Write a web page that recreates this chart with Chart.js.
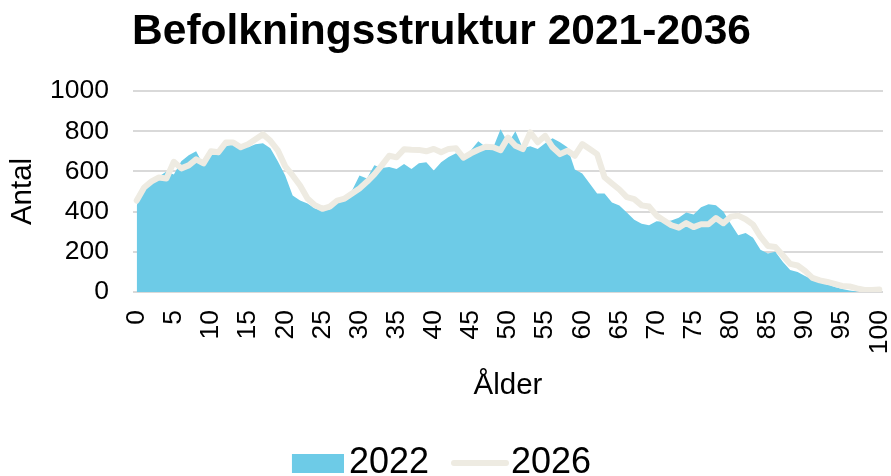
<!DOCTYPE html>
<html>
<head>
<meta charset="utf-8">
<script src="https://cdn.jsdelivr.net/npm/chart.js@4"></script>
<style>
html,body{margin:0;padding:0;overflow:hidden;background:#ffffff;}
#wrap{width:891px;height:491px;position:relative;}
</style>
</head>
<body>
<div id="wrap"><canvas id="c" width="891" height="491"></canvas></div>
<script>
// ---- data ----
const ages = [0,1,2,3,4,5,6,7,8,9,10,11,12,13,14,15,16,17,18,19,20,21,22,23,24,25,26,27,28,29,30,31,32,33,34,35,36,37,38,39,40,41,42,43,44,45,46,47,48,49,50,51,52,53,54,55,56,57,58,59,60,61,62,63,64,65,66,67,68,69,70,71,72,73,74,75,76,77,78,79,80,81,82,83,84,85,86,87,88,89,90,91,92,93,94,95,96,97,98,99,100];
const pop2022 = [430,525,555,575,600,585,650,680,700,630,
  705,680,725,735,730,720,735,740,715,650,
  580,480,455,440,415,405,410,465,475,505,
  580,565,630,617,622,612,637,612,640,645,
  605,645,672,690,672,705,750,722,718,810,
  740,800,715,725,712,740,765,745,720,610,
  590,540,490,490,445,430,395,360,340,332,
  352,350,356,370,395,385,422,437,432,400,
  340,282,294,270,210,192,200,150,110,100,
  80,62,50,38,25,15,7,3,2,1,1];
const pop2026 = [455,520,550,570,565,648,615,630,660,640,
  700,695,744,744,720,735,760,785,752,705,
  625,580,530,465,432,414,425,455,465,490,
  515,548,585,630,678,670,710,708,707,700,
  712,695,712,715,668,690,708,723,720,705,
  768,728,711,794,745,777,720,686,703,678,
  736,711,686,571,540,510,472,462,431,425,
  381,356,332,320,343,323,337,337,368,342,
  375,380,362,335,275,229,224,183,140,132,
  105,70,58,50,40,30,28,18,10,10,12];
const xTickLabels = ['0','5','10','15','20','25','30','35','40','45','50','55','60','65','70','75','80','85','90','95','100'];
const yTickValues = [0,200,400,600,800,1000];
const yTickLabels = ['0','200','400','600','800','1000'];
const seriesNames = ['2022','2026'];
const titleText = 'Befolkningsstruktur 2021-2036';
const xTitle = 'Ålder';
const yTitle = 'Antal';

// ---- styles ----
const AREA = '#6DCBE7';
const LINE = '#EEEBE2';
const GRID = '#D9D9D9';
const FONT = "'Liberation Sans', Arial, sans-serif";

function rectIcon(){
  const c = document.createElement('canvas');
  c.width = 65; c.height = 19;
  const g = c.getContext('2d');
  g.fillStyle = AREA;
  g.fillRect(13, 0, 52, 19);
  return c;
}
function lineIcon(){
  const c = document.createElement('canvas');
  c.width = 71; c.height = 10;
  const g = c.getContext('2d');
  g.strokeStyle = LINE;
  g.lineWidth = 6;
  g.lineCap = 'round';
  g.beginPath();
  g.moveTo(16, 5); g.lineTo(68, 5);
  g.stroke();
  return c;
}
const icons = [rectIcon(), lineIcon()];

const ctx = document.getElementById('c').getContext('2d');
new Chart(ctx, {
  type: 'line',
  data: {
    labels: ages.map(String),
    datasets: [
      {
        label: seriesNames[0],
        data: pop2022,
        fill: 'origin',
        backgroundColor: AREA,
        borderWidth: 0,
        borderColor: AREA,
        pointRadius: 0,
        tension: 0,
        order: 1
      },
      {
        label: seriesNames[1],
        data: pop2026,
        fill: false,
        borderColor: LINE,
        backgroundColor: LINE,
        borderWidth: 6,
        borderJoinStyle: 'round',
        borderCapStyle: 'round',
        pointRadius: 0,
        tension: 0,
        order: 0
      }
    ]
  },
  options: {
    responsive: false,
    animation: false,
    devicePixelRatio: 1,
    layout: { padding: { left: 0, right: 8, top: 0, bottom: 0 } },
    plugins: {
      tooltip: { enabled: false },
      title: {
        display: true,
        text: titleText,
        color: '#000',
        font: { family: FONT, size: 42.5, weight: 'bold' },
        padding: { top: 7, bottom: 33 }
      },
      legend: {
        display: true,
        position: 'bottom',
        labels: {
          usePointStyle: true,
          pointStyleWidth: 39,
          boxHeight: 19,
          padding: 25,
          color: '#000',
          font: { family: FONT, size: 36 },
          generateLabels: () => seriesNames.map((n, i) => ({
            text: n,
            pointStyle: icons[i],
            fillStyle: i === 0 ? AREA : LINE,
            strokeStyle: i === 0 ? AREA : LINE,
            lineWidth: 0,
            hidden: false,
            datasetIndex: i,
            fontColor: '#000'
          }))
        }
      }
    },
    scales: {
      x: {
        type: 'category',
        offset: true,
        grid: { display: false, drawTicks: false },
        border: { display: false },
        ticks: {
          autoSkip: false,
          minRotation: 90,
          maxRotation: 90,
          padding: 18,
          color: '#000',
          font: { family: FONT, size: 26.5 },
          callback: function(val, idx){
            return idx % 5 === 0 ? xTickLabels[idx / 5] : '';
          }
        },
        title: {
          display: true,
          text: xTitle,
          color: '#000',
          font: { family: FONT, size: 29.5 },
          padding: { top: 0, bottom: 16.5 }
        },
        afterFit: function(scale){
          scale.height = 128;
          scale.paddingLeft = 0;
          scale.paddingRight = 0;
        }
      },
      y: {
        min: 0,
        max: 1000,
        grid: { color: GRID, lineWidth: 2, drawTicks: false },
        border: { display: false },
        afterBuildTicks: function(scale){
          scale.ticks = yTickValues.map(v => ({ value: v }));
        },
        ticks: {
          padding: 24,
          color: '#000',
          font: { family: FONT, size: 26.5 },
          callback: function(val){
            const i = yTickValues.indexOf(val);
            return i >= 0 ? yTickLabels[i] : '';
          }
        },
        title: {
          display: true,
          text: yTitle,
          color: '#000',
          font: { family: FONT, size: 29.5 },
          padding: { top: 5, bottom: 0 }
        },
        afterFit: function(scale){
          scale.width = 133;
        }
      }
    }
  }
});
</script>
</body>
</html>
